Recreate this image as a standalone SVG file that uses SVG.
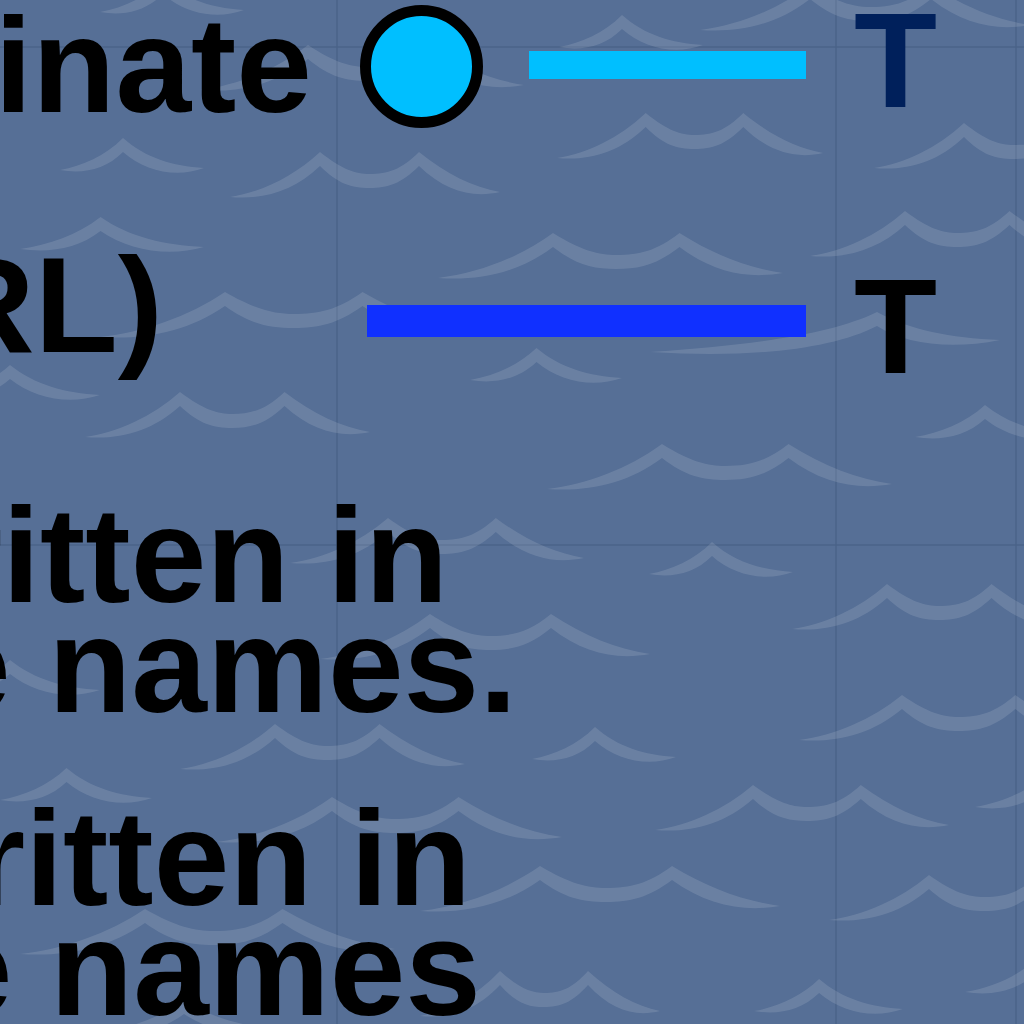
<svg xmlns="http://www.w3.org/2000/svg" xmlns:xlink="http://www.w3.org/1999/xlink" width="1024" height="1024" viewBox="0 0 1024 1024">
  <style>
    .bg { fill: #566F96; }
    .grid { stroke: #4A6389; stroke-width: 2; opacity: 0.7; }
    .wave { fill: #FFFFFF; fill-opacity: 0.12; }
    .lbl { font-family: "Liberation Sans", Arial, Helvetica, sans-serif; font-weight: bold; font-size: 136px; fill: #000000; }
  </style>
  <defs>
    <path id="w2" d="M0,45 C35,40 70,25 100,0 C125,18 140,22 155,22 C175,22 190,18 210,0 C240,22 270,35 300,40 C270,46 240,40 210,14 C190,32 175,36 155,36 C135,36 120,32 100,14 C70,40 35,48 0,45 Z"/>
    <path id="w1" d="M0,32 C25,28 50,18 70,0 C95,20 125,28 160,30 C130,40 95,34 70,14 C50,32 25,36 0,32 Z"/>
  </defs>

  <rect class="bg" x="0" y="0" width="1024" height="1024"/>

  <g id="grid">
    <line class="grid" x1="337" y1="0" x2="337" y2="1024"/>
    <line class="grid" x1="836" y1="0" x2="836" y2="1024"/>
    <line class="grid" x1="1016" y1="0" x2="1016" y2="1024"/>
    <line class="grid" x1="0" y1="47" x2="1024" y2="47"/>
    <line class="grid" x1="0" y1="545" x2="1024" y2="545"/>
  </g>

  <g id="waves" class="wave">
    <use xlink:href="#w2" transform="translate(700,-15) scale(1.1,1)"/>
    <use xlink:href="#w1" transform="translate(100,-20) scale(0.9,1)"/>
    <use xlink:href="#w1" transform="translate(559,15) scale(0.9,1)"/>
    <use xlink:href="#w2" transform="translate(200,45) scale(1.08,1)"/>
    <use xlink:href="#w2" transform="translate(557,113) scale(0.887,1)"/>
    <use xlink:href="#w2" transform="translate(874,123) scale(0.9,1)"/>
    <use xlink:href="#w1" transform="translate(60,138) scale(0.9,1)"/>
    <use xlink:href="#w2" transform="translate(230,152) scale(0.9,1)"/>
    <use xlink:href="#w2" transform="translate(810,211) scale(0.95,1)"/>
    <use xlink:href="#w1" transform="translate(20,217) scale(1.15,1)"/>
    <use xlink:href="#w2" transform="translate(438,233) scale(1.15,1)"/>
    <use xlink:href="#w2" transform="translate(100,292) scale(1.25,1)"/>
    <path d="M650,352 C750,345 830,335 877,312 C910,330 950,338 1000,340 C950,350 905,344 877,326 C830,350 750,358 650,352 Z"/>
    <use xlink:href="#w1" transform="translate(470,348) scale(0.95,1)"/>
    <use xlink:href="#w1" transform="translate(-60,365) scale(1,1)"/>
    <use xlink:href="#w2" transform="translate(85,392) scale(0.95,1)"/>
    <use xlink:href="#w1" transform="translate(915,405) scale(1,1)"/>
    <use xlink:href="#w2" transform="translate(547,444) scale(1.15,1)"/>
    <use xlink:href="#w2" transform="translate(290,518) scale(0.98,1)"/>
    <use xlink:href="#w1" transform="translate(649,542) scale(0.9,1)"/>
    <use xlink:href="#w2" transform="translate(792,584) scale(0.95,1)"/>
    <use xlink:href="#w2" transform="translate(320,614) scale(1.1,1)"/>
    <use xlink:href="#w1" transform="translate(-60,660) scale(1,1)"/>
    <use xlink:href="#w2" transform="translate(799,695) scale(1.03,1)"/>
    <use xlink:href="#w2" transform="translate(180,724) scale(0.95,1)"/>
    <use xlink:href="#w1" transform="translate(532,727) scale(0.9,1)"/>
    <use xlink:href="#w1" transform="translate(0,768) scale(0.95,1)"/>
    <use xlink:href="#w1" transform="translate(975,775) scale(1,1)"/>
    <use xlink:href="#w2" transform="translate(655,785) scale(0.98,1)"/>
    <use xlink:href="#w2" transform="translate(217,797) scale(1.15,1)"/>
    <use xlink:href="#w2" transform="translate(420,866) scale(1.2,1)"/>
    <use xlink:href="#w2" transform="translate(829,875) scale(1,1)"/>
    <use xlink:href="#w2" transform="translate(20,909) scale(1.25,1)"/>
    <use xlink:href="#w1" transform="translate(965,960) scale(1,1)"/>
    <use xlink:href="#w2" transform="translate(420,971) scale(0.8,1)"/>
    <use xlink:href="#w1" transform="translate(754,979) scale(0.93,1)"/>
    <use xlink:href="#w1" transform="translate(100,1000) scale(1.2,1)"/>
  </g>

  <g id="legend-row-1">
    <text class="lbl" x="312" y="112" text-anchor="end">inate</text>
    <circle cx="421.5" cy="66.5" r="56" fill="#00BFFF" stroke="#000000" stroke-width="11"/>
    <rect x="529" y="51" width="277" height="28" fill="#00BFFF"/>
    <text class="lbl" x="854" y="107" style="fill:#00205B">T</text>
  </g>

  <g id="legend-row-2">
    <text class="lbl" x="163" y="352" text-anchor="end">RL)</text>
    <rect x="367" y="305" width="439" height="32" fill="#1030FF"/>
    <text class="lbl" x="854" y="373">T</text>
  </g>

  <g id="note-1">
    <text class="lbl" x="448" y="602" text-anchor="end">ritten in</text>
    <text class="lbl" x="517" y="712" text-anchor="end">e names.</text>
  </g>

  <g id="note-2">
    <text class="lbl" x="471" y="905" text-anchor="end">ritten in</text>
    <text class="lbl" x="481" y="1015" text-anchor="end">e names</text>
  </g>
</svg>
